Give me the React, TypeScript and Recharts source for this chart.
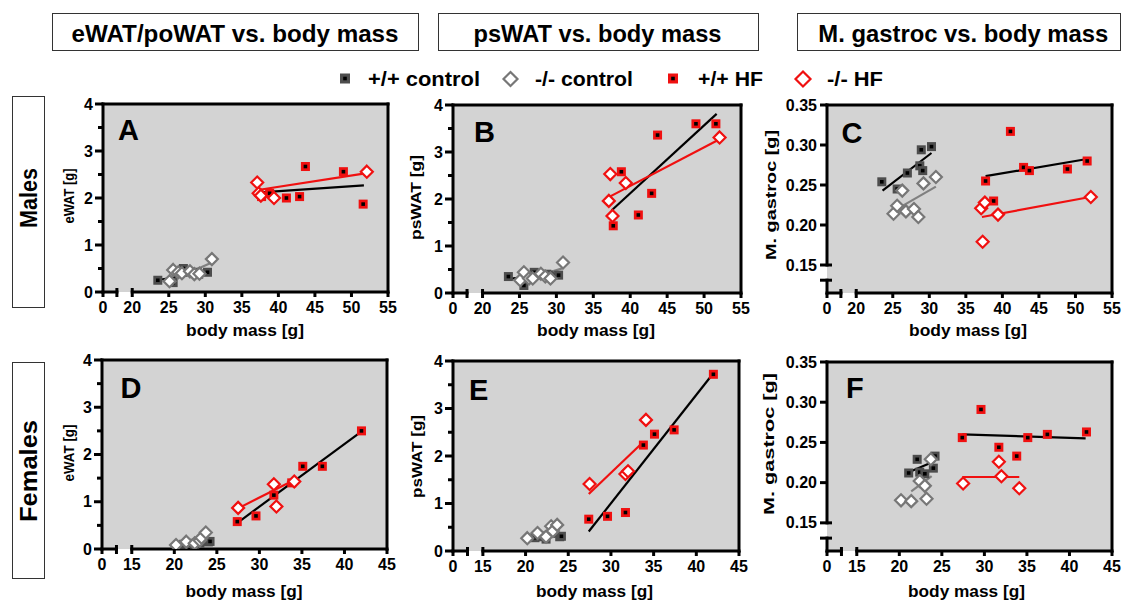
import React from "react";
import {
  ScatterChart,
  Scatter,
  XAxis,
  YAxis,
  CartesianGrid,
  ReferenceLine,
} from "recharts";

const FONT = "'Liberation Sans', Arial, Helvetica, sans-serif";
const RED = "#f01010";
const DARK = "#4d4d4d";
const GREY = "#777777";
const PLOT_BG = "#d3d3d3";
const TICK_FS = 16;

// males, body mass [g]
const maleWtCtrlMass = [23.5, 25.6, 27.0, 28.7, 28.9, 29.1, 30.3];
const maleKoCtrlMass = [25.1, 25.6, 26.3, 26.8, 27.9, 28.5, 29.2, 30.9];
const maleWtHfMass = [37.7, 38.8, 41.1, 42.9, 43.7, 48.9, 51.6];
const maleKoHfMass = [37.1, 37.3, 37.6, 39.4, 52.1];

// males, eWAT [g]
const maleWtCtrlEwat = [0.25, 0.2, 0.5, 0.4, 0.42, 0.38, 0.42];
const maleKoCtrlEwat = [0.23, 0.47, 0.42, 0.4, 0.44, 0.38, 0.39, 0.7];
const maleWtHfEwat = [2.03, 2.1, 2.0, 2.03, 2.67, 2.56, 1.87];
const maleKoHfEwat = [2.33, 2.1, 2.05, 2.0, 2.56];

// males, psWAT [g]
const maleWtCtrlPswat = [0.35, 0.16, 0.44, 0.4, 0.38, 0.36, 0.38];
const maleKoCtrlPswat = [0.27, 0.44, 0.31, 0.31, 0.41, 0.35, 0.31, 0.65];
const maleWtHfPswat = [1.43, 2.58, 1.66, 2.12, 3.36, 3.6, 3.6];
const maleKoHfPswat = [1.96, 2.53, 1.64, 2.34, 3.31];

// males, M. gastroc [g]
const maleWtCtrlGastroc = [0.254, 0.245, 0.265, 0.274, 0.294, 0.268, 0.298];
const maleKoCtrlGastroc = [0.214, 0.224, 0.243, 0.217, 0.22, 0.21, 0.252, 0.26];
const maleWtHfGastroc = [0.255, 0.23, 0.317, 0.272, 0.268, 0.27, 0.28];
const maleKoHfGastroc = [0.221, 0.179, 0.228, 0.213, 0.235];

// females, body mass [g]
const femWtCtrlMass = [21.1, 22.1, 22.4, 23.0, 24.0, 24.2];
const femKoCtrlMass = [20.2, 21.4, 22.4, 23.0, 23.2, 23.7];
const femWtHfMass = [27.4, 29.6, 31.7, 33.8, 35.1, 37.4, 42.0];
const femKoHfMass = [27.5, 31.7, 32.0, 34.1];

// females, eWAT [g]
const femWtCtrlEwat = [0.1, 0.12, 0.1, 0.12, 0.15, 0.16];
const femKoCtrlEwat = [0.085, 0.155, 0.12, 0.18, 0.24, 0.35];
const femWtHfEwat = [0.58, 0.7, 1.14, 1.4, 1.75, 1.75, 2.5];
const femKoHfEwat = [0.87, 1.37, 0.9, 1.43];

// females, psWAT [g]
const femWtCtrlPswat = [0.28, 0.3, 0.25, 0.37, 0.3, 0.31];
const femKoCtrlPswat = [0.27, 0.38, 0.3, 0.52, 0.42, 0.55];
const femWtHfPswat = [0.67, 0.73, 0.81, 2.23, 2.46, 2.55, 3.72];
const femKoHfPswat = [1.41, 1.62, 1.68, 2.76];

// females, M. gastroc [g]
const femWtCtrlGastroc = [0.212, 0.229, 0.213, 0.211, 0.218, 0.233];
const femKoCtrlGastroc = [0.178, 0.177, 0.202, 0.196, 0.18, 0.229];
const femWtHfGastroc = [0.256, 0.291, 0.244, 0.233, 0.256, 0.26, 0.263];
const femKoHfGastroc = [0.199, 0.226, 0.208, 0.193];

// regression lines [mass from, mass to, value from, value to]
// order: +/+ control, -/- control, +/+ HF, -/- HF
const fitsA = [[23.3, 30.2, 0.25, 0.42], [25.1, 30.9, 0.23, 0.63], [37.6, 51.7, 2.12, 2.27], [37.2, 52.1, 2.17, 2.53]];
const fitsB = [[23.5, 30.2, 0.3, 0.41], [25.1, 30.9, 0.25, 0.53], [37.5, 51.7, 1.76, 3.81], [37.1, 52.1, 2.04, 3.27]];
const fitsC = [[23.6, 30.3, 0.243, 0.29], [25.2, 30.9, 0.218, 0.248], [37.7, 51.6, 0.261, 0.2825], [37.2, 52.0, 0.21, 0.235]];
const fitsD = [[21.3, 24.2, 0.1, 0.155], [20.2, 23.7, 0.07, 0.3], [27.5, 42.1, 0.565, 2.5], [27.5, 34.1, 0.86, 1.46]];
const fitsE = [[21.1, 24.1, 0.28, 0.34], [20.2, 23.7, 0.27, 0.5], [27.4, 41.9, 0.41, 3.72], [27.4, 33.75, 1.2, 2.29]];
const fitsF = [[21.1, 24.2, 0.213, 0.227], [21.4, 23.8, 0.189, 0.208], [27.4, 41.9, 0.26, 0.255], [27.4, 34.1, 0.207, 0.207]];

// axes: the "0" tick sits before a break in the body mass axis
const maleMassTicks = [16, 17.9, 20, 25, 30, 35, 40, 45, 50, 55];
const femMassTicks = [11.5, 13.2, 15, 20, 25, 30, 35, 40, 45];
const fatTicks = [0, 0.5, 1, 1.5, 2, 2.5, 3, 3.5, 4];
const gastrocTicks = [0.131, 0.15, 0.2, 0.25, 0.3, 0.35];

const legendLabels = ["+/+ control", "-/- control", "+/+ HF", "-/- HF"];
const headers = ["eWAT/poWAT vs. body mass", "psWAT vs. body mass", "M. gastroc vs. body mass"];

const fitColors = ["#000", "#808080", "#000", RED];

const toPoints = (mass: number[], vals: number[]) => mass.map((m, i) => ({ x: m, y: vals[i] }));

const Square = ({ cx, cy, color, size = 9 }: any) => (
  <g>
    <rect x={cx - size / 2} y={cy - size / 2} width={size} height={size} fill={color} />
    <rect x={cx - 1.8} y={cy - 1.8} width={3.6} height={3.6} fill="#000" />
  </g>
);

const Diamond = ({ cx, cy, color, size = 12 }: any) => {
  const h = size / 2;
  return (
    <path
      d={`M${cx} ${cy - h}L${cx + h} ${cy}L${cx} ${cy + h}L${cx - h} ${cy}Z`}
      fill="#fff"
      stroke={color}
      strokeWidth={2.2}
    />
  );
};

const Panel = ({ box, males, groups, fits, gastroc }: any) => {
  const ML = 55;
  const MR = 10;
  const MT = 10;
  const MB = 30;
  const xTicks = males ? maleMassTicks : femMassTicks;
  const x0 = xTicks[0];
  const xBreak = xTicks[1];
  const xResume = xTicks[2];
  const xMax = xTicks[xTicks.length - 1];
  const yTicks = gastroc ? gastrocTicks : fatTicks;
  const yMin = gastroc ? 0.115 : 0;
  const yMax = yTicks[yTicks.length - 1];
  const ax = { stroke: "#000", strokeWidth: 3, strokeLinecap: "square" as const };

  const xTick = (p: any) => {
    const { x, y, payload } = p;
    const v = payload.value;
    if (v === xBreak) return <line x1={x} x2={x} y1={y - 4} y2={y + 5} stroke="#000" strokeWidth={3} />;
    return (
      <g>
        <line x1={x} x2={x} y1={v === xResume ? y - 4 : y} y2={y + 5} stroke="#000" strokeWidth={3} />
        <text x={x} y={y + 21} textAnchor="middle" fontFamily={FONT} fontWeight={700} fontSize={TICK_FS}>
          {v === x0 ? "0" : v}
        </text>
      </g>
    );
  };

  const yTick = (p: any) => {
    const { x, y, payload } = p;
    const v = payload.value;
    if (gastroc) {
      const both = v === yTicks[0] || v === yTicks[1];
      return (
        <g>
          <line x1={x - 7} x2={both ? x + 5 : x} y1={y} y2={y} stroke="#000" strokeWidth={3} />
          {v !== yTicks[0] && (
            <text x={x - 10} y={y} dy="0.35em" textAnchor="end" fontFamily={FONT} fontWeight={700} fontSize={TICK_FS}>
              {v.toFixed(2)}
            </text>
          )}
        </g>
      );
    }
    const major = Number.isInteger(v);
    return (
      <g>
        <line x1={x - (major ? 8 : 5)} x2={x} y1={y} y2={y} stroke="#000" strokeWidth={3} />
        {major && (
          <text x={x - 10} y={y} dy="0.35em" textAnchor="end" fontFamily={FONT} fontWeight={700} fontSize={TICK_FS}>
            {v}
          </text>
        )}
      </g>
    );
  };

  return (
    <div style={{ position: "absolute", left: box.left - ML, top: box.top - MT }}>
      <ScatterChart
        width={box.width + ML + MR}
        height={box.height + MT + MB}
        margin={{ top: MT, right: MR, bottom: MB - 1, left: ML - 1 }}
      >
        <CartesianGrid horizontal={false} vertical={false} fill={PLOT_BG} stroke="none" />
        <XAxis
          type="number"
          dataKey="x"
          domain={[x0, xMax]}
          ticks={xTicks}
          interval={0}
          height={1}
          tickSize={0}
          tickMargin={0}
          axisLine={false}
          tickLine={false}
          tick={xTick}
          allowDataOverflow
        />
        <YAxis
          type="number"
          dataKey="y"
          domain={[yMin, yMax]}
          ticks={yTicks}
          interval={0}
          width={1}
          tickSize={0}
          tickMargin={0}
          axisLine={false}
          tickLine={false}
          tick={yTick}
          allowDataOverflow
        />
        <ReferenceLine segment={[{ x: x0, y: yMax }, { x: xMax, y: yMax }]} {...ax} />
        <ReferenceLine segment={[{ x: xMax, y: yMin }, { x: xMax, y: yMax }]} {...ax} />
        <ReferenceLine segment={[{ x: x0, y: yMin }, { x: xBreak, y: yMin }]} {...ax} />
        <ReferenceLine segment={[{ x: xResume, y: yMin }, { x: xMax, y: yMin }]} {...ax} />
        {gastroc ? (
          <ReferenceLine segment={[{ x: x0, y: yMin }, { x: x0, y: yTicks[0] }]} {...ax} />
        ) : null}
        <ReferenceLine segment={[{ x: x0, y: gastroc ? yTicks[1] : yMin }, { x: x0, y: yMax }]} {...ax} />
        <Scatter
          data={toPoints(groups[0][0], groups[0][1])}
          isAnimationActive={false}
          shape={(p: any) => <Square cx={p.cx} cy={p.cy} color={DARK} />}
        />
        <Scatter
          data={toPoints(groups[1][0], groups[1][1])}
          isAnimationActive={false}
          shape={(p: any) => <Diamond cx={p.cx} cy={p.cy} color={GREY} />}
        />
        <Scatter
          data={toPoints(groups[2][0], groups[2][1])}
          isAnimationActive={false}
          shape={(p: any) => <Square cx={p.cx} cy={p.cy} color={RED} />}
        />
        <Scatter
          data={toPoints(groups[3][0], groups[3][1])}
          isAnimationActive={false}
          shape={(p: any) => <Diamond cx={p.cx} cy={p.cy} color={RED} />}
        />
        {fits.map((f: number[], i: number) => (
          <ReferenceLine
            key={i}
            segment={[{ x: f[0], y: f[2] }, { x: f[1], y: f[3] }]}
            stroke={fitColors[i]}
            strokeWidth={2.2}
          />
        ))}
      </ScatterChart>
    </div>
  );
};

const txt = { fontFamily: FONT, fontWeight: 700 };

const App: React.FC = () => {
  const maleGroups = (w: number[], k: number[], wh: number[], kh: number[]) => [
    [maleWtCtrlMass, w],
    [maleKoCtrlMass, k],
    [maleWtHfMass, wh],
    [maleKoHfMass, kh],
  ];
  const femGroups = (w: number[], k: number[], wh: number[], kh: number[]) => [
    [femWtCtrlMass, w],
    [femKoCtrlMass, k],
    [femWtHfMass, wh],
    [femKoHfMass, kh],
  ];

  return (
    <div style={{ position: "absolute", left: 0, top: 0, width: 1122, height: 604, background: "#fff" }}>
      <Panel
        box={{ left: 103, top: 104, width: 285, height: 188 }}
        males
        groups={maleGroups(maleWtCtrlEwat, maleKoCtrlEwat, maleWtHfEwat, maleKoHfEwat)}
        fits={fitsA}
      />
      <Panel
        box={{ left: 453, top: 105, width: 288, height: 188 }}
        males
        groups={maleGroups(maleWtCtrlPswat, maleKoCtrlPswat, maleWtHfPswat, maleKoHfPswat)}
        fits={fitsB}
      />
      <Panel
        box={{ left: 827, top: 105, width: 285, height: 188 }}
        males
        gastroc
        groups={maleGroups(maleWtCtrlGastroc, maleKoCtrlGastroc, maleWtHfGastroc, maleKoHfGastroc)}
        fits={fitsC}
      />
      <Panel
        box={{ left: 102, top: 360, width: 285, height: 189 }}
        groups={femGroups(femWtCtrlEwat, femKoCtrlEwat, femWtHfEwat, femKoHfEwat)}
        fits={fitsD}
      />
      <Panel
        box={{ left: 453, top: 361, width: 286, height: 190 }}
        groups={femGroups(femWtCtrlPswat, femKoCtrlPswat, femWtHfPswat, femKoHfPswat)}
        fits={fitsE}
      />
      <Panel
        box={{ left: 827, top: 362, width: 285, height: 189 }}
        gastroc
        groups={femGroups(femWtCtrlGastroc, femKoCtrlGastroc, femWtHfGastroc, femKoHfGastroc)}
        fits={fitsF}
      />

      <svg
        width={1122}
        height={604}
        style={{ position: "absolute", left: 0, top: 0, pointerEvents: "none" }}
      >
        {/* column headers */}
        <rect x={52.5} y={13.5} width={366} height={37} fill="none" stroke="#333" />
        <rect x={438.5} y={13.5} width={320} height={37} fill="none" stroke="#333" />
        <rect x={797.5} y={13.5} width={323} height={37} fill="none" stroke="#333" />
        <text x={235} y={42} textAnchor="middle" fontSize={24} textLength={327} lengthAdjust="spacingAndGlyphs" {...txt}>
          {headers[0]}
        </text>
        <text x={597.5} y={42} textAnchor="middle" fontSize={24} textLength={248} lengthAdjust="spacingAndGlyphs" {...txt}>
          {headers[1]}
        </text>
        <text x={963.3} y={42} textAnchor="middle" fontSize={24} textLength={290} lengthAdjust="spacingAndGlyphs" {...txt}>
          {headers[2]}
        </text>

        {/* legend */}
        <Square cx={345} cy={78.5} color={DARK} size={10} />
        <text x={368} y={86} fontSize={21} textLength={112} lengthAdjust="spacingAndGlyphs" {...txt}>
          {legendLabels[0]}
        </text>
        <Diamond cx={510.5} cy={79} color={GREY} size={14} />
        <text x={535} y={86} fontSize={21} textLength={98} lengthAdjust="spacingAndGlyphs" {...txt}>
          {legendLabels[1]}
        </text>
        <Square cx={673} cy={78.5} color={RED} size={10} />
        <text x={698} y={86} fontSize={21} textLength={65} lengthAdjust="spacingAndGlyphs" {...txt}>
          {legendLabels[2]}
        </text>
        <Diamond cx={803} cy={79} color={RED} size={15} />
        <text x={827} y={86} fontSize={21} textLength={56} lengthAdjust="spacingAndGlyphs" {...txt}>
          {legendLabels[3]}
        </text>

        {/* row labels */}
        <rect x={12.5} y={96.5} width={32} height={211} fill="none" stroke="#333" />
        <rect x={12.5} y={362.5} width={32} height={216} fill="none" stroke="#333" />
        <text transform="translate(28.5,198) rotate(-90)" textAnchor="middle" dominantBaseline="central" fontSize={23} textLength={60} lengthAdjust="spacingAndGlyphs" {...txt}>
          Males
        </text>
        <text transform="translate(28.5,471) rotate(-90)" textAnchor="middle" dominantBaseline="central" fontSize={23} textLength={102} lengthAdjust="spacingAndGlyphs" {...txt}>
          Females
        </text>

        {/* y axis titles */}
        <text transform="translate(68.5,196) rotate(-90)" textAnchor="middle" dominantBaseline="central" fontSize={15} textLength={55} lengthAdjust="spacingAndGlyphs" {...txt}>
          eWAT [g]
        </text>
        <text transform="translate(415,197.5) rotate(-90)" textAnchor="middle" dominantBaseline="central" fontSize={15} textLength={85} lengthAdjust="spacingAndGlyphs" {...txt}>
          psWAT [g]
        </text>
        <text transform="translate(770,195) rotate(-90)" textAnchor="middle" dominantBaseline="central" fontSize={15} textLength={130} lengthAdjust="spacingAndGlyphs" {...txt}>
          M. gastroc [g]
        </text>
        <text transform="translate(68.5,453) rotate(-90)" textAnchor="middle" dominantBaseline="central" fontSize={15} textLength={57} lengthAdjust="spacingAndGlyphs" {...txt}>
          eWAT [g]
        </text>
        <text transform="translate(416.5,456.5) rotate(-90)" textAnchor="middle" dominantBaseline="central" fontSize={15} textLength={83} lengthAdjust="spacingAndGlyphs" {...txt}>
          psWAT [g]
        </text>
        <text transform="translate(768.5,444) rotate(-90)" textAnchor="middle" dominantBaseline="central" fontSize={15} textLength={142} lengthAdjust="spacingAndGlyphs" {...txt}>
          M. gastroc [g]
        </text>

        {/* x axis titles */}
        {[245, 596, 968].map((cx) => (
          <text key={cx} x={cx} y={336} textAnchor="middle" fontSize={17} textLength={118} lengthAdjust="spacingAndGlyphs" {...txt}>
            body mass [g]
          </text>
        ))}
        {[244, 594.5, 966.5].map((cx) => (
          <text key={cx} x={cx} y={596.5} textAnchor="middle" fontSize={17} textLength={117} lengthAdjust="spacingAndGlyphs" {...txt}>
            body mass [g]
          </text>
        ))}

        {/* panel letters */}
        <text x={118} y={140} fontSize={29} {...txt}>A</text>
        <text x={474} y={141.5} fontSize={29} {...txt}>B</text>
        <text x={841.5} y={143} fontSize={29} {...txt}>C</text>
        <text x={120.5} y={398} fontSize={29} {...txt}>D</text>
        <text x={469} y={400} fontSize={29} {...txt}>E</text>
        <text x={846} y={398} fontSize={29} {...txt}>F</text>
      </svg>
    </div>
  );
};

export default App;
